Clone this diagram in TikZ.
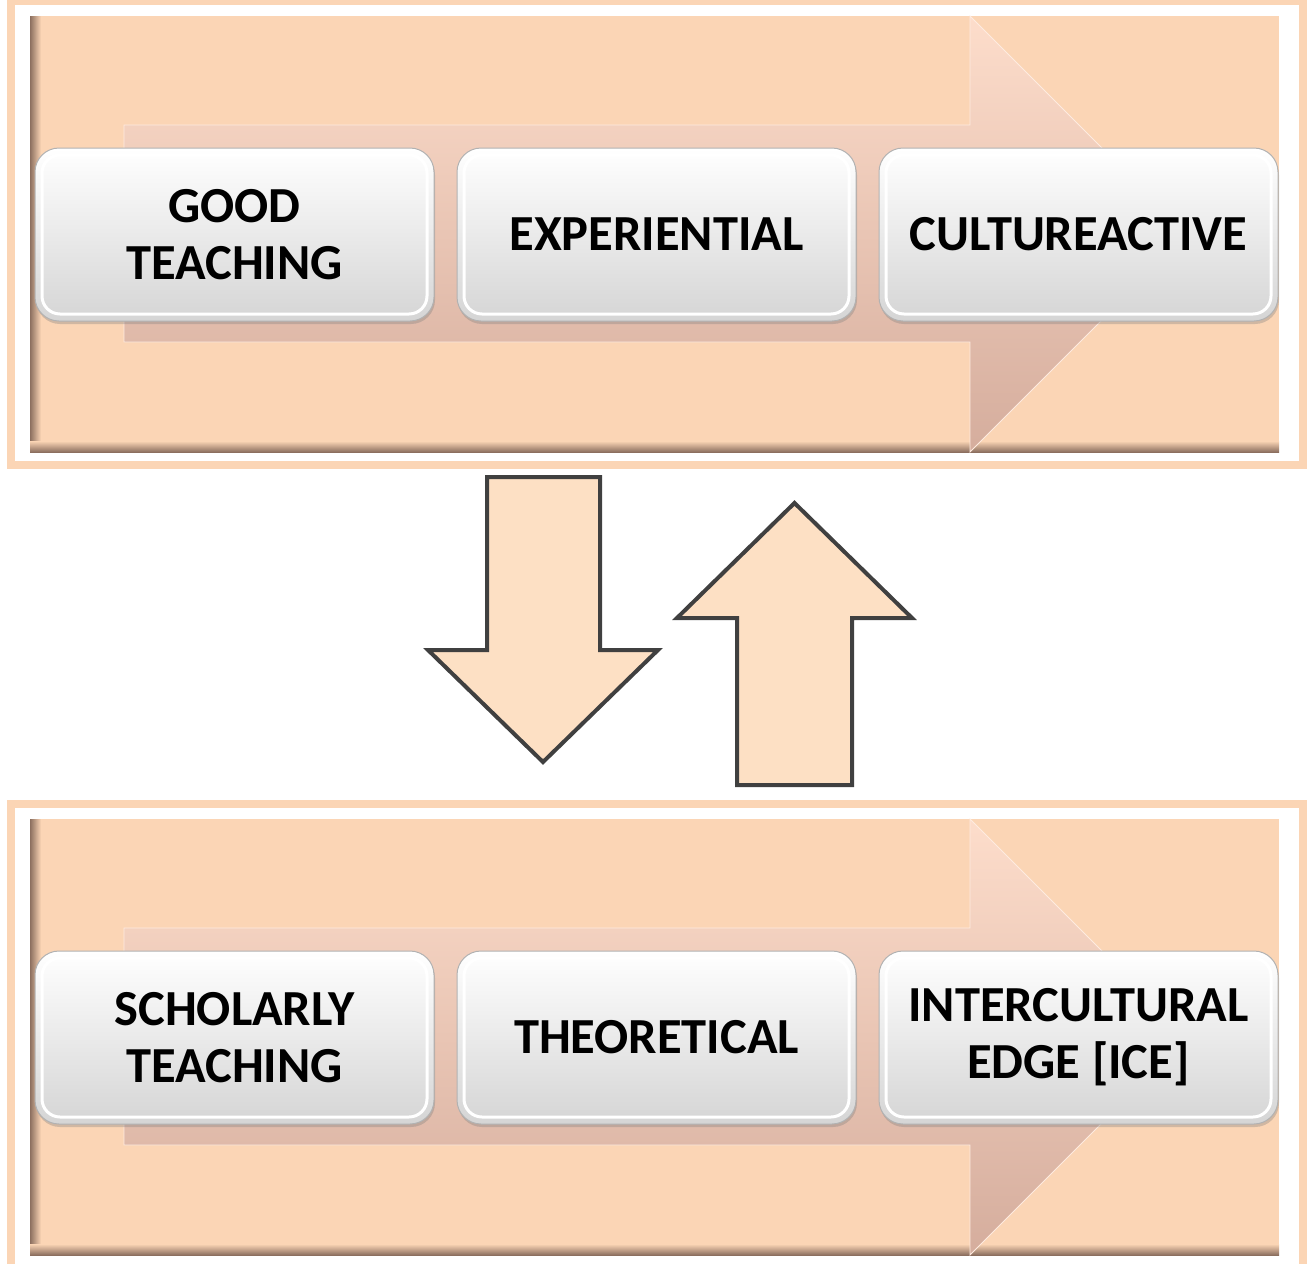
\documentclass[tikz,border=0pt]{standalone}
\usepackage{fontspec}
\setmainfont{Carlito}
\usetikzlibrary{positioning,shadows}

\definecolor{peach}{HTML}{FBD5B5}
\definecolor{peachshadow}{HTML}{8C6F5F}
\definecolor{flowlight}{HTML}{FDDDCB}
\definecolor{flowdark}{HTML}{D5AD9D}
\definecolor{updownfill}{HTML}{FDE0C4}

\tikzset{
	stepbox/.style={
		rounded corners=24pt,
		minimum width=399pt, minimum height=173pt,
		inner sep=0pt, align=center,
		draw=gray!60, line width=1pt,
		top color=white, bottom color=gray!33,
		drop shadow={shadow xshift=1pt, shadow yshift=-3pt, opacity=0.35},
		font=\fontsize{50.5}{57}\selectfont\bfseries,
		path picture={
			\draw[white, line width=3pt, rounded corners=18pt]
			([shift={(7pt,-7pt)}]path picture bounding box.north west)
			rectangle ([shift={(-7pt,7pt)}]path picture bounding box.south east);
		}
	},
	flowarrow/.style={top color=flowlight, bottom color=flowdark, draw=flowlight!60!white, line width=0.8pt},
	updownarrow/.style={fill=updownfill, draw=black!75, line width=4pt, line join=miter}
}

\begin{document}
\begin{tikzpicture}[x=1pt,y=-1pt]
		\useasboundingbox (0,0) rectangle (1307,1264);

		% the two framed panels with their flow arrow
		\foreach \oy in {0,803}
		{
			\begin{scope}[shift={(0,\oy)}]
				\draw[peach, line width=8pt] (11,1) rectangle (1303,465);
				\fill[peach] (30,16) rectangle (1279,452);
				\shade[left color=peachshadow, right color=peach] (30,16) rectangle (41,452);
				\shade[top color=peach, bottom color=peachshadow] (30,441) rectangle (1279,452);
				\path[flowarrow] (124,125) -- (970,125) -- (970,16) -- (1188,234)
				-- (970,452) -- (970,342) -- (124,342) -- cycle;
			\end{scope}
		}

		% upper row
		\node[stepbox] (good) at (234.5,234.5) {GOOD\\TEACHING};
		\node[stepbox, right=22pt of good] (experiential) {EXPERIENTIAL};
		\node[stepbox, right=22pt of experiential] (cultureactive) {CULTUREACTIVE};

		% lower row
		\node[stepbox] (scholarly) at (234.5,1037.5) {SCHOLARLY\\TEACHING};
		\node[stepbox, right=22pt of scholarly] (theoretical) {THEORETICAL};
		\node[stepbox, right=22pt of theoretical] (ice) {INTERCULTURAL\\EDGE [ICE]};

		% down and up arrows between the panels
		\draw[updownarrow] (487,477) -- (600,477) -- (600,650) -- (658,650)
		-- (543,762) -- (428,650) -- (487,650) -- cycle;
		\draw[updownarrow] (737,785) -- (852,785) -- (852,618) -- (912,618)
		-- (794.5,503) -- (677,618) -- (737,618) -- cycle;
\end{tikzpicture}
\end{document}
